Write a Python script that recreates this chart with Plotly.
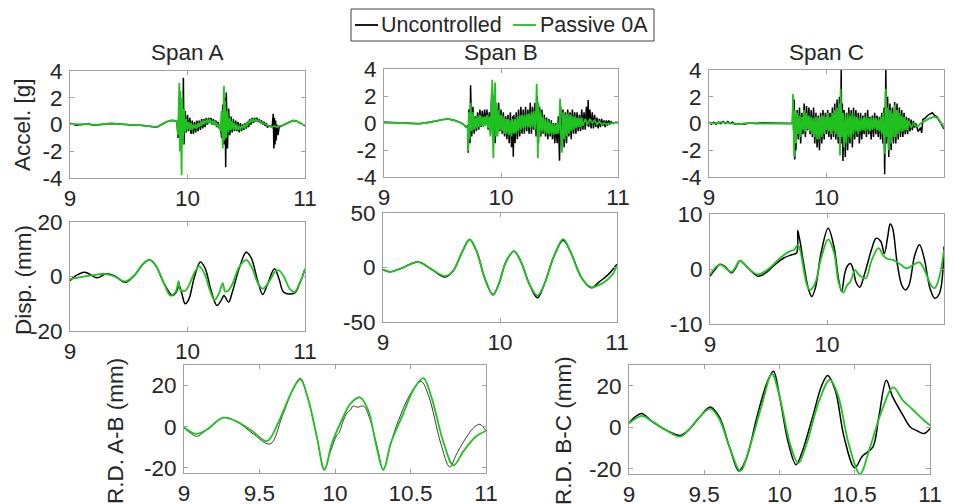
import plotly.graph_objects as go

# ---------------- DATA (time [s], value) ----------------
ACC_A_UNC = [(9.00,0.1),(9.05,-0.05),(9.10,0.0),(9.15,0.05),(9.20,-0.05),(9.25,0.0),(9.30,0.05),(9.35,0.08),(9.40,0.05),(9.45,0.0),(9.50,0.0),(9.55,-0.05),(9.60,-0.05),(9.65,-0.1),(9.70,-0.15),(9.74,-0.2),(9.78,0.0),(9.82,0.2),(9.86,0.3),(9.89,0.3),(9.91,0.2),
 (9.92,-1.0),(9.93,2.0),(9.94,-2.0),(9.95,1.5),(9.96,-1.2),(9.965,3.5),(9.97,-1.5),(9.98,1.0),(9.99,-0.6),(10.00,0.7),(10.01,-0.5),(10.02,0.5),(10.03,-0.7),(10.04,0.3),(10.05,-0.7),(10.06,0.2),(10.07,-0.6),(10.08,0.3),(10.09,-0.5),(10.10,0.3),(10.11,-0.4),(10.12,0.4),(10.13,-0.3),(10.14,0.4),(10.15,-0.2),(10.16,0.5),(10.17,0.0),(10.18,0.5),(10.19,0.1),(10.20,0.5),(10.21,0.0),(10.22,0.4),(10.23,0.0),(10.24,0.3),(10.25,-0.2),(10.26,0.2),(10.27,-0.3),(10.28,0.0),
 (10.29,-1.0),(10.30,1.5),(10.31,-1.5),(10.32,2.0),(10.325,-3.2),(10.33,2.4),(10.34,-1.8),(10.35,1.2),(10.36,-0.8),(10.37,0.6),(10.38,-0.6),(10.39,0.4),(10.40,-0.5),(10.41,0.3),(10.42,-0.5),(10.43,0.2),(10.44,-0.6),(10.45,0.1),(10.46,-0.5),(10.47,0.0),(10.48,-0.4),(10.49,0.1),(10.50,-0.3),(10.51,0.2),(10.52,-0.2),(10.53,0.4),(10.54,0.0),(10.55,0.5),(10.56,0.1),(10.57,0.5),(10.58,0.2),(10.59,0.5),(10.60,0.2),(10.61,0.4),(10.62,0.1),(10.63,0.3),(10.64,0.0),(10.65,0.2),(10.66,-0.1),(10.67,0.1),(10.68,-0.2),(10.70,-0.1),(10.72,-0.2),
 (10.73,0.8),(10.735,-1.8),(10.74,0.5),(10.745,-1.5),(10.75,0.3),(10.755,-1.2),(10.76,0.0),(10.77,-0.8),(10.78,-0.2),(10.80,-0.1),(10.83,0.0),(10.86,0.15),(10.90,0.3),(10.93,0.25),(10.96,0.1),(10.98,0.0),(11.00,-0.1)]
ACC_A_PAS = [(9.00,0.05),(9.05,0.0),(9.10,0.0),(9.15,0.05),(9.20,-0.02),(9.25,0.0),(9.30,0.05),(9.35,0.08),(9.40,0.05),(9.45,0.0),(9.50,0.0),(9.55,-0.05),(9.60,-0.05),(9.65,-0.1),(9.70,-0.15),(9.74,-0.2),(9.78,0.0),(9.82,0.2),(9.86,0.3),(9.89,0.3),(9.91,0.25),
 (9.92,-0.8),(9.93,3.1),(9.935,-2.0),(9.94,2.5),(9.95,-3.8),(9.955,2.0),(9.96,-1.5),(9.97,1.2),(9.98,-0.6),(9.99,0.4),(10.00,-0.4),(10.01,0.2),(10.02,-0.4),(10.03,0.1),(10.04,-0.4),(10.05,0.0),(10.06,-0.3),(10.07,0.0),(10.08,-0.3),(10.09,0.1),(10.10,-0.2),(10.11,0.2),(10.12,-0.1),(10.13,0.3),(10.14,0.0),(10.15,0.3),(10.16,0.1),(10.17,0.4),(10.18,0.1),(10.19,0.4),(10.20,0.1),(10.21,0.3),(10.22,0.0),(10.23,0.3),(10.24,-0.1),(10.25,0.1),(10.26,-0.2),(10.27,0.0),(10.28,-0.5),
 (10.29,1.0),(10.30,-1.8),(10.31,2.9),(10.315,-1.2),(10.32,1.8),(10.33,-1.0),(10.34,1.0),(10.35,-0.6),(10.36,0.5),(10.37,-0.4),(10.38,0.3),(10.39,-0.4),(10.40,0.1),(10.41,-0.4),(10.42,0.0),(10.43,-0.4),(10.44,-0.1),(10.45,-0.4),(10.46,-0.1),(10.47,-0.3),(10.48,0.0),(10.49,-0.3),(10.50,0.1),(10.51,-0.1),(10.52,0.3),(10.53,0.1),(10.54,0.4),(10.55,0.2),(10.56,0.4),(10.57,0.2),(10.58,0.4),(10.59,0.2),(10.60,0.35),(10.62,0.2),(10.64,0.1),(10.66,0.0),(10.68,-0.1),(10.70,-0.15),(10.72,-0.2),(10.74,-0.1),(10.76,-0.2),(10.78,-0.1),(10.80,-0.1),(10.83,0.0),(10.86,0.15),(10.90,0.3),(10.93,0.25),(10.96,0.1),(10.98,0.0),(11.00,-0.1)]

ACC_B_UNC = [(9.00,0.05),(9.05,0.05),(9.10,0.05),(9.15,0.0),(9.20,-0.02),(9.25,-0.05),(9.30,-0.05),(9.35,0.0),(9.40,0.05),(9.45,0.15),(9.50,0.25),(9.55,0.3),(9.60,0.2),(9.65,0.05),(9.68,-0.1),(9.70,-0.3),(9.715,-0.2),
 (9.72,-2.2),(9.725,1.0),(9.735,-1.5),(9.74,2.8),(9.75,-1.0),(9.76,1.2),(9.77,-0.8),(9.78,0.5),(9.79,-0.6),(9.80,0.8),(9.81,-0.5),(9.82,1.0),(9.83,-0.3),(9.84,0.9),(9.85,-0.2),(9.86,1.0),(9.87,0.0),(9.88,1.0),(9.89,-0.5),(9.90,0.8),(9.91,-0.8),(9.92,2.2),(9.93,-1.0),(9.94,2.0),(9.95,-1.5),(9.96,1.5),(9.97,-0.8),(9.98,1.5),(9.99,-0.6),(10.00,1.0),(10.01,-0.8),(10.02,0.8),(10.03,-1.0),(10.04,0.5),(10.05,-1.2),(10.06,0.6),(10.07,-1.5),(10.08,0.8),(10.09,-1.8),(10.10,0.5),(10.105,-2.5),(10.11,0.6),(10.12,-1.5),(10.13,0.8),(10.14,-1.2),(10.15,1.0),(10.16,-1.0),(10.17,1.2),(10.18,-0.8),(10.19,1.0),(10.20,-0.8),(10.21,1.2),(10.22,-0.6),(10.23,1.0),(10.24,-0.8),(10.25,1.5),(10.26,-0.8),(10.27,1.2),(10.28,-0.5),(10.29,1.5),(10.30,-1.0),(10.31,2.0),(10.32,-1.5),(10.33,1.2),(10.34,-1.0),(10.35,1.0),(10.36,-0.8),(10.37,0.6),(10.38,-1.0),(10.39,0.4),(10.40,-1.2),(10.41,0.3),(10.42,-1.0),(10.43,0.2),(10.44,-1.2),(10.45,0.0),(10.46,-1.5),(10.47,0.0),(10.48,-1.5),(10.49,0.5),(10.50,-2.8),(10.51,1.2),(10.52,-2.0),(10.53,1.0),(10.54,-1.8),(10.55,0.8),(10.56,-1.5),(10.57,1.0),(10.58,-1.0),(10.59,0.8),(10.60,-1.2),(10.61,1.0),(10.62,-0.8),(10.63,0.8),(10.64,-0.8),(10.65,0.8),(10.66,-0.6),(10.67,0.6),(10.68,-0.6),(10.69,1.0),(10.70,-0.5),(10.71,0.8),(10.72,-0.5),(10.73,1.2),(10.74,-0.2),(10.745,1.7),(10.75,-0.3),(10.76,1.0),(10.77,-0.4),(10.78,0.8),(10.79,-0.4),(10.80,0.6),(10.81,-0.3),(10.82,0.4),(10.83,-0.4),(10.84,0.3),(10.85,-0.3),(10.86,0.3),(10.87,-0.2),(10.88,0.2),(10.89,-0.3),(10.90,0.2),(10.91,-0.2),(10.92,0.2),(10.93,-0.1),(10.94,0.1),(10.96,-0.05),(10.98,0.05),(11.00,0.0)]
ACC_B_PAS = [(9.00,0.05),(9.05,0.05),(9.10,0.05),(9.15,0.0),(9.20,-0.02),(9.25,-0.05),(9.30,-0.05),(9.35,0.0),(9.40,0.05),(9.45,0.15),(9.50,0.25),(9.55,0.3),(9.60,0.2),(9.65,0.05),(9.68,-0.1),(9.70,-0.3),(9.715,-0.3),
 (9.72,-2.1),(9.725,0.8),(9.73,-1.2),(9.74,1.5),(9.75,-0.6),(9.76,0.8),(9.77,-0.5),(9.78,0.4),(9.79,-0.4),(9.80,0.5),(9.81,-0.3),(9.82,0.6),(9.83,-0.2),(9.84,0.5),(9.85,-0.3),(9.86,0.5),(9.87,-0.2),(9.88,0.6),(9.89,-0.4),(9.90,0.5),(9.91,-1.0),(9.92,1.5),(9.925,3.2),(9.93,-1.0),(9.935,-2.6),(9.94,1.5),(9.95,3.0),(9.955,-1.0),(9.96,1.5),(9.97,-1.0),(9.98,1.0),(9.99,-0.5),(10.00,0.6),(10.01,-0.6),(10.02,0.5),(10.03,-0.8),(10.04,0.3),(10.05,-0.8),(10.06,0.3),(10.07,-0.9),(10.08,0.2),(10.09,-1.0),(10.10,0.3),(10.11,-0.8),(10.12,0.3),(10.13,-0.8),(10.14,0.5),(10.15,-0.6),(10.16,0.6),(10.17,-0.5),(10.18,0.6),(10.19,-0.4),(10.20,0.6),(10.21,-0.4),(10.22,0.7),(10.23,-0.3),(10.24,0.7),(10.25,-0.4),(10.26,0.8),(10.27,-0.3),(10.28,0.9),(10.29,-0.5),(10.30,1.0),(10.305,2.9),(10.31,-0.5),(10.315,-2.6),(10.32,1.5),(10.33,-1.0),(10.34,0.8),(10.35,-0.6),(10.36,0.5),(10.37,-0.7),(10.38,0.3),(10.39,-0.8),(10.40,0.2),(10.41,-0.8),(10.42,0.1),(10.43,-0.8),(10.44,0.0),(10.45,-0.9),(10.46,-0.1),(10.47,-0.8),(10.48,0.0),(10.49,-0.8),(10.50,0.3),(10.505,1.8),(10.51,-0.5),(10.52,-2.2),(10.53,0.8),(10.54,-1.2),(10.55,0.6),(10.56,-1.0),(10.57,0.7),(10.58,-0.8),(10.59,0.6),(10.60,-0.6),(10.61,0.5),(10.62,-0.5),(10.63,0.5),(10.64,-0.4),(10.65,0.4),(10.66,-0.3),(10.67,0.4),(10.68,-0.3),(10.69,0.4),(10.70,-0.2),(10.72,0.3),(10.74,-0.1),(10.76,0.3),(10.78,0.0),(10.80,0.2),(10.82,-0.1),(10.84,0.1),(10.86,-0.1),(10.88,0.0),(10.90,-0.1),(10.92,-0.05),(10.95,0.0),(10.98,0.05),(11.00,0.05)]

ACC_C_UNC = [(9.00,0.1),(9.02,-0.05),(9.04,0.1),(9.06,-0.05),(9.08,0.1),(9.10,0.0),(9.12,0.15),(9.14,0.0),(9.16,0.15),(9.18,0.0),(9.20,0.1),(9.22,-0.05),(9.25,0.0),(9.30,-0.05),(9.35,0.05),(9.40,0.0),(9.45,0.05),(9.50,0.05),(9.55,0.0),(9.60,0.05),(9.65,0.05),(9.70,0.0),(9.71,0.1),
 (9.715,1.5),(9.72,-0.5),(9.725,1.8),(9.73,-2.7),(9.735,0.5),(9.74,-2.0),(9.75,1.0),(9.76,-1.2),(9.77,1.2),(9.78,-1.5),(9.79,0.8),(9.80,-0.8),(9.81,1.5),(9.82,-1.0),(9.83,1.3),(9.84,-0.5),(9.85,1.2),(9.86,-0.8),(9.87,1.0),(9.88,-1.0),(9.89,1.2),(9.90,-1.5),(9.91,0.8),(9.92,-1.8),(9.93,0.6),(9.94,-2.0),(9.95,0.8),(9.96,-1.5),(9.97,1.0),(9.98,-1.2),(9.99,0.8),(10.00,-0.8),(10.01,1.0),(10.02,-1.0),(10.03,0.8),(10.04,-1.2),(10.05,1.2),(10.06,-1.0),(10.07,1.5),(10.08,-1.2),(10.09,1.8),(10.10,-1.5),(10.11,2.0),(10.12,-1.0),(10.125,4.0),(10.13,-1.5),(10.135,1.5),(10.14,-2.8),(10.15,1.0),(10.16,-2.5),(10.17,0.8),(10.18,-2.0),(10.19,1.2),(10.20,-1.5),(10.21,1.0),(10.22,-1.8),(10.23,1.2),(10.24,-1.2),(10.25,1.0),(10.26,-1.0),(10.27,0.8),(10.28,-1.5),(10.29,0.8),(10.30,-1.2),(10.31,0.6),(10.32,-0.8),(10.33,0.8),(10.34,-1.0),(10.35,1.0),(10.36,-0.8),(10.37,0.5),(10.38,-1.2),(10.39,0.6),(10.40,-1.0),(10.41,0.8),(10.42,-0.8),(10.43,0.6),(10.44,-1.0),(10.45,0.5),(10.46,-1.2),(10.47,0.8),(10.48,-1.5),(10.49,1.2),(10.495,-3.8),(10.50,1.5),(10.505,4.0),(10.51,-1.5),(10.52,2.0),(10.53,-2.5),(10.54,1.5),(10.55,-2.0),(10.56,1.2),(10.57,-1.5),(10.58,1.6),(10.59,-1.5),(10.60,1.5),(10.61,-1.2),(10.62,1.2),(10.63,-1.0),(10.64,1.0),(10.65,-1.0),(10.66,0.8),(10.67,-0.8),(10.68,0.5),(10.69,-0.8),(10.70,0.4),(10.71,-0.6),(10.72,0.3),(10.73,-0.5),(10.74,0.2),(10.75,-0.3),(10.76,0.0),(10.78,-0.6),(10.80,-0.3),(10.81,-0.7),(10.82,0.3),(10.84,0.4),(10.86,0.6),(10.88,0.7),(10.90,0.8),(10.92,0.6),(10.94,0.5),(10.96,0.2),(10.98,-0.1),(11.00,-0.4)]
ACC_C_PAS = [(9.00,0.05),(9.05,0.0),(9.10,0.1),(9.15,0.05),(9.20,0.05),(9.25,-0.05),(9.30,0.0),(9.35,0.05),(9.40,0.0),(9.45,0.0),(9.50,0.05),(9.55,0.0),(9.60,0.0),(9.65,0.05),(9.70,0.0),(9.71,0.1),
 (9.715,2.2),(9.72,-0.5),(9.725,-2.5),(9.73,1.0),(9.74,-1.5),(9.75,0.8),(9.76,-0.8),(9.77,0.6),(9.78,-1.0),(9.79,0.5),(9.80,-0.5),(9.81,1.0),(9.82,-0.6),(9.83,0.8),(9.84,-0.4),(9.85,0.6),(9.86,-0.6),(9.87,0.5),(9.88,-0.8),(9.89,0.4),(9.90,-1.0),(9.91,0.5),(9.92,-1.2),(9.93,0.4),(9.94,-1.2),(9.95,0.5),(9.96,-1.0),(9.97,0.6),(9.98,-0.8),(9.99,0.5),(10.00,-0.5),(10.01,0.8),(10.02,-0.6),(10.03,0.5),(10.04,-0.8),(10.05,0.8),(10.06,-0.6),(10.07,1.0),(10.08,-0.8),(10.09,1.2),(10.10,-1.0),(10.11,1.5),(10.115,-2.4),(10.12,2.6),(10.13,-1.0),(10.14,0.8),(10.15,-1.8),(10.16,0.6),(10.17,-1.5),(10.18,0.8),(10.19,-1.0),(10.20,0.6),(10.21,-1.2),(10.22,0.8),(10.23,-0.8),(10.24,0.6),(10.25,-0.6),(10.26,0.5),(10.27,-0.8),(10.28,0.4),(10.29,-0.6),(10.30,0.4),(10.31,-0.5),(10.32,0.5),(10.33,-0.6),(10.34,0.6),(10.35,-0.5),(10.36,0.4),(10.37,-0.6),(10.38,0.4),(10.39,-0.5),(10.40,0.5),(10.41,-0.4),(10.42,0.4),(10.43,-0.5),(10.44,0.3),(10.45,-0.6),(10.46,0.5),(10.47,-0.8),(10.48,0.8),(10.49,-1.0),(10.495,-2.3),(10.50,1.0),(10.505,2.6),(10.51,-1.0),(10.52,1.2),(10.53,-2.0),(10.54,1.0),(10.55,-1.5),(10.56,0.8),(10.57,-1.0),(10.58,1.4),(10.59,-1.0),(10.60,1.0),(10.61,-0.8),(10.62,0.8),(10.63,-0.6),(10.64,0.6),(10.65,-0.6),(10.66,0.5),(10.67,-0.5),(10.68,0.3),(10.69,-0.5),(10.70,0.2),(10.72,-0.3),(10.74,0.0),(10.76,-0.2),(10.78,-0.2),(10.80,0.0),(10.84,0.2),(10.88,0.4),(10.92,0.5),(10.95,0.4),(10.98,0.0),(11.00,-0.3)]

DISP_A_UNC = [(9.00,-1.5),(9.05,0.3),(9.12,1.6),(9.17,0.8),(9.23,-0.5),(9.31,1.0),(9.38,0.2),(9.47,-2.1),(9.55,0.5),(9.62,4.5),(9.68,6.1),(9.73,4.0),(9.80,-2.5),(9.87,-7.0),(9.90,-6.0),(9.93,-3.5),(9.95,-6.0),(9.98,-10.0),(10.01,-8.5),(10.06,0.0),(10.11,5.3),(10.15,3.0),(10.20,-5.0),(10.25,-10.6),(10.29,-8.5),(10.31,-7.0),(10.35,-9.4),(10.38,-6.0),(10.44,3.0),(10.50,8.9),(10.54,7.0),(10.60,-2.0),(10.64,-6.6),(10.68,-3.0),(10.74,2.8),(10.78,-1.0),(10.82,-5.8),(10.91,-6.1),(10.95,-3.0),(11.00,2.8)]
DISP_A_PAS = [(9.00,-1.0),(9.08,-0.3),(9.20,0.5),(9.30,1.0),(9.38,0.0),(9.47,-1.8),(9.55,0.5),(9.62,4.5),(9.68,6.1),(9.73,4.0),(9.80,-2.5),(9.855,-7.0),(9.90,-5.5),(9.925,-1.7),(9.94,-5.0),(9.98,-5.2),(10.02,-2.5),(10.06,1.5),(10.10,3.7),(10.15,0.5),(10.19,-5.0),(10.23,-8.6),(10.27,-6.0),(10.30,-2.4),(10.32,-5.5),(10.345,-5.2),(10.38,-3.0),(10.44,3.5),(10.50,6.1),(10.55,3.0),(10.60,-2.5),(10.64,-4.5),(10.70,-1.5),(10.75,2.0),(10.78,2.2),(10.82,0.0),(10.87,-4.5),(10.91,-5.7),(10.95,-3.0),(11.00,2.8)]

DISP_B_UNC = [(9.00,-2.0),(9.06,-4.0),(9.15,-1.0),(9.30,5.0),(9.42,-2.0),(9.53,-8.8),(9.60,-3.0),(9.68,15.0),(9.74,25.7),(9.80,15.0),(9.87,-10.0),(9.94,-25.0),(9.99,-15.0),(10.05,5.0),(10.12,15.0),(10.18,5.0),(10.25,-15.0),(10.32,-27.8),(10.38,-15.0),(10.46,10.0),(10.54,25.0),(10.60,15.0),(10.70,-10.0),(10.78,-18.6),(10.85,-13.0),(10.92,-7.0),(11.00,3.0)]
DISP_B_PAS = [(9.00,-2.0),(9.06,-4.0),(9.15,-1.0),(9.30,5.0),(9.42,-2.0),(9.53,-8.0),(9.60,-3.0),(9.68,15.0),(9.74,25.7),(9.80,15.0),(9.87,-10.0),(9.94,-25.0),(9.99,-15.0),(10.05,5.0),(10.12,15.0),(10.18,5.0),(10.25,-15.0),(10.32,-25.7),(10.38,-15.0),(10.46,10.0),(10.54,26.0),(10.60,15.0),(10.70,-10.0),(10.78,-18.0),(10.85,-16.0),(10.92,-11.0),(10.97,-5.0),(11.00,2.0)]

DISP_C_UNC = [(9.00,-1.3),(9.04,-0.2),(9.085,0.85),(9.13,0.4),(9.185,-0.7),(9.22,0.2),(9.256,1.5),(9.32,0.3),(9.41,-1.3),(9.47,-0.8),(9.55,0.7),(9.63,2.0),(9.70,2.6),(9.74,2.9),(9.75,7.0),(9.76,6.0),(9.77,5.0),(9.80,1.0),(9.84,-3.5),(9.87,-5.0),(9.90,-3.5),(9.95,3.0),(10.01,7.4),(10.06,4.0),(10.10,-2.0),(10.125,-4.1),(10.15,-1.0),(10.17,0.4),(10.20,1.0),(10.22,0.2),(10.25,-2.5),(10.28,-3.3),(10.32,-1.0),(10.38,3.5),(10.42,5.6),(10.46,5.0),(10.49,2.8),(10.52,6.0),(10.54,8.2),(10.56,7.5),(10.60,1.0),(10.64,-3.0),(10.67,-3.8),(10.70,-3.0),(10.75,2.5),(10.79,4.4),(10.83,2.0),(10.88,-3.5),(10.92,-5.3),(10.96,-4.5),(11.00,4.1)]
DISP_C_PAS = [(9.00,-1.0),(9.085,0.8),(9.185,-0.5),(9.256,1.5),(9.32,0.3),(9.41,-1.0),(9.50,0.0),(9.60,2.0),(9.68,3.2),(9.72,3.5),(9.75,4.4),(9.77,3.5),(9.80,0.0),(9.83,-3.0),(9.855,-3.8),(9.90,-2.5),(9.95,2.0),(10.01,5.4),(10.06,3.0),(10.10,-2.5),(10.14,-4.3),(10.17,-3.0),(10.20,-2.3),(10.24,-0.2),(10.27,-1.0),(10.33,-1.7),(10.38,1.5),(10.44,3.8),(10.48,2.5),(10.51,1.9),(10.57,1.6),(10.63,0.8),(10.68,0.1),(10.74,0.8),(10.79,1.2),(10.84,-0.5),(10.89,-3.0),(10.92,-3.5),(10.96,-1.5),(11.00,3.5)]

RD_AB_UNC = [(9.00,-0.4),(9.04,-3.0),(9.084,-4.7),(9.15,-1.5),(9.26,4.4),(9.35,2.5),(9.45,-3.0),(9.57,-8.4),(9.65,5.0),(9.72,18.0),(9.77,23.6),(9.82,14.0),(9.88,-5.0),(9.93,-20.7),(9.97,-12.0),(10.01,-4.4),(10.03,-2.5),(10.05,2.0),(10.08,6.8),(10.10,8.0),(10.12,10.0),(10.15,9.5),(10.19,10.0),(10.23,4.0),(10.28,-10.0),(10.32,-20.7),(10.37,-8.0),(10.42,3.0),(10.50,16.0),(10.57,22.0),(10.62,15.0),(10.70,-8.0),(10.76,-19.6),(10.80,-14.0),(10.83,-10.0),(10.88,-4.0),(10.92,-0.4),(10.96,1.2),(11.00,-2.0)]
RD_AB_PAS = [(9.00,-0.4),(9.08,-3.5),(9.15,-1.5),(9.26,4.4),(9.35,2.5),(9.45,-2.0),(9.55,-7.0),(9.63,3.0),(9.72,18.0),(9.77,23.0),(9.82,14.0),(9.88,-5.0),(9.93,-21.0),(9.98,-8.0),(10.05,4.0),(10.10,11.0),(10.165,14.3),(10.22,8.0),(10.27,-8.0),(10.32,-21.0),(10.37,-8.0),(10.45,6.0),(10.52,18.0),(10.585,23.6),(10.64,14.0),(10.72,-8.0),(10.785,-18.8),(10.85,-12.0),(10.93,-5.0),(11.00,-2.0)]

RD_BC_UNC = [(9.00,2.0),(9.04,5.0),(9.084,6.6),(9.15,3.0),(9.25,-1.5),(9.34,-3.9),(9.40,-1.0),(9.47,5.0),(9.54,9.8),(9.60,5.0),(9.67,-10.0),(9.73,-21.0),(9.78,-15.0),(9.85,5.0),(9.92,22.0),(9.96,27.0),(10.00,15.0),(10.06,-8.0),(10.11,-18.0),(10.15,-12.0),(10.22,5.0),(10.28,20.0),(10.32,25.0),(10.37,18.0),(10.43,-5.0),(10.50,-19.5),(10.55,-14.0),(10.62,-9.5),(10.66,5.0),(10.71,22.7),(10.75,15.0),(10.82,5.8),(10.87,0.0),(10.91,-1.5),(10.96,-3.0),(11.00,-0.6)]
RD_BC_PAS = [(9.00,1.8),(9.084,5.5),(9.15,3.0),(9.25,-1.5),(9.34,-4.5),(9.40,-1.0),(9.47,5.0),(9.54,9.0),(9.60,4.0),(9.67,-10.0),(9.74,-21.0),(9.80,-10.0),(9.88,10.0),(9.95,25.6),(10.00,15.0),(10.07,-8.0),(10.125,-17.3),(10.18,-8.0),(10.26,12.0),(10.335,23.0),(10.39,15.0),(10.46,-8.0),(10.535,-22.4),(10.60,-10.0),(10.68,8.0),(10.755,19.2),(10.82,13.0),(10.89,8.2),(10.95,4.0),(11.00,0.9)]

SERIES_NAMES = ["Uncontrolled", "Passive 0A"]
SPAN_TITLES = ["Span A", "Span B", "Span C"]
Y_TITLES = ["Accel. [g]", "Disp. (mm)", "R.D. A-B (mm)", "R.D. B-C (mm)"]
X_TICKS_TOP = [9, 10, 11]
X_TICKS_BOTTOM = [9, 9.5, 10, 10.5, 11]
ACC_TICKS = [-4, -2, 0, 2, 4]

# ---------------- STYLE ----------------
FONT = "Liberation Sans, Arial, sans-serif"
TXT = "#262626"
BLACK = "#000000"
GREEN = "#1fc21f"
AXC = "#a0a0a0"
FS = 22.5
LEG_FS = 21.5
SERIES_COLORS = [BLACK, GREEN]

# The page body has an 8px margin, so the figure is 8px smaller and all
# positions (measured on the 954x504 window) are shifted by that offset.
OFF = 8
W, H = 954 - OFF, 504 - OFF
def xd(a, b): return [(a - OFF) / W, (b - OFF) / W]
def yd(top, bot): return [1 - (bot - OFF) / H, 1 - (top - OFF) / H]
def px(x): return (x - OFF) / W
def py(y): return 1 - (y - OFF) / H

panels = [
    ((70, 305), (71, 178), ACC_A_UNC, ACC_A_PAS, [-4, 4], ACC_TICKS, X_TICKS_TOP, False),
    ((384, 618), (69, 177), ACC_B_UNC, ACC_B_PAS, [-4, 4], ACC_TICKS, X_TICKS_TOP, False),
    ((709, 944), (70, 177), ACC_C_UNC, ACC_C_PAS, [-4, 4], ACC_TICKS, X_TICKS_TOP, False),
    ((70, 305), (222, 331), DISP_A_UNC, DISP_A_PAS, [-20, 20], [-20, 0, 20], X_TICKS_TOP, True),
    ((383, 617), (213, 322), DISP_B_UNC, DISP_B_PAS, [-50, 50], [-50, 0, 50], X_TICKS_TOP, True),
    ((710, 944), (214, 324), DISP_C_UNC, DISP_C_PAS, [-10, 10], [-10, 0, 10], X_TICKS_TOP, True),
    ((184, 486), (365, 473), RD_AB_UNC, RD_AB_PAS, [-22.5, 30], [-20, 0, 20], X_TICKS_BOTTOM, True),
    ((629, 930), (365, 474), RD_BC_UNC, RD_BC_PAS, [-22.5, 30], [-20, 0, 20], X_TICKS_BOTTOM, True),
]

fig = go.Figure()
layout = {}
for i, (xp, yp, unc, pas, yr, yt, xt, spl) in enumerate(panels):
    n = i + 1
    xa = "x" if n == 1 else f"x{n}"
    ya = "y" if n == 1 else f"y{n}"
    shape = "spline" if spl else "linear"
    uw, ucol = (1.5, BLACK)
    if i == 6:
        uw, ucol = (1.0, "#3a3a3a")
    fig.add_trace(go.Scatter(x=[p[0] for p in unc], y=[p[1] for p in unc], mode="lines",
                             line=dict(color=ucol, width=uw, shape=shape),
                             name=SERIES_NAMES[0], showlegend=False,
                             xaxis=xa, yaxis=ya))
    fig.add_trace(go.Scatter(x=[p[0] for p in pas], y=[p[1] for p in pas], mode="lines",
                             line=dict(color=GREEN, width=1.8, shape=shape),
                             name=SERIES_NAMES[1], showlegend=False,
                             xaxis=xa, yaxis=ya))
    common = dict(showline=True, mirror="ticks", linecolor=AXC, linewidth=1,
                  ticks="inside", ticklen=4, tickcolor=AXC, showgrid=False, zeroline=False,
                  automargin=False,
                  tickfont=dict(family=FONT, size=FS, color=TXT))
    layout["xaxis" if n == 1 else f"xaxis{n}"] = dict(
        domain=xd(*xp), anchor=ya, range=[9, 11], tickvals=xt,
        ticktext=[f"{v:g}" for v in xt], **common)
    layout["yaxis" if n == 1 else f"yaxis{n}"] = dict(
        domain=yd(*yp), anchor=xa, range=yr, tickvals=yt,
        ticktext=[f"{v:g}" for v in yt], ticklabelstandoff=2, **common)

fig.update_layout(**layout)

ann = []
for title, cx in zip(SPAN_TITLES, [187, 501, 826]):
    ann.append(dict(text=title, x=px(cx), y=py(52), xref="paper", yref="paper",
                    showarrow=False, xanchor="center", yanchor="middle",
                    font=dict(family=FONT, size=FS, color=TXT)))
for title, cx, cy in zip(Y_TITLES, [23, 23, 115, 563], [125, 280, 431, 431]):
    ann.append(dict(text=title, x=px(cx), y=py(cy), xref="paper", yref="paper",
                    showarrow=False, textangle=-90, xanchor="center", yanchor="middle",
                    font=dict(family=FONT, size=FS, color=TXT)))

# Legend box (MATLAB style, compact): frame, two line samples, two labels
shapes = [dict(type="rect", xref="paper", yref="paper", x0=px(351), x1=px(654),
               y0=py(41), y1=py(9), line=dict(color="#404040", width=1),
               fillcolor="white", layer="above")]
for name, col, lx0, tx in zip(SERIES_NAMES, SERIES_COLORS, [355, 513], [379, 538]):
    shapes.append(dict(type="line", xref="paper", yref="paper", x0=px(lx0), x1=px(lx0 + 23),
                       y0=py(25), y1=py(25), line=dict(color=col, width=1.8), layer="above"))
    ann.append(dict(text=name, x=px(tx), y=py(25), xref="paper", yref="paper",
                    showarrow=False, xanchor="left", yanchor="middle",
                    font=dict(family=FONT, size=LEG_FS, color=TXT)))

fig.update_layout(
    width=W, height=H, margin=dict(l=0, r=0, t=0, b=0, pad=0, autoexpand=False),
    paper_bgcolor="white", plot_bgcolor="white",
    annotations=ann, shapes=shapes, showlegend=False,
    font=dict(family=FONT, size=FS, color=TXT),
)

fig.write_html("out.html")
